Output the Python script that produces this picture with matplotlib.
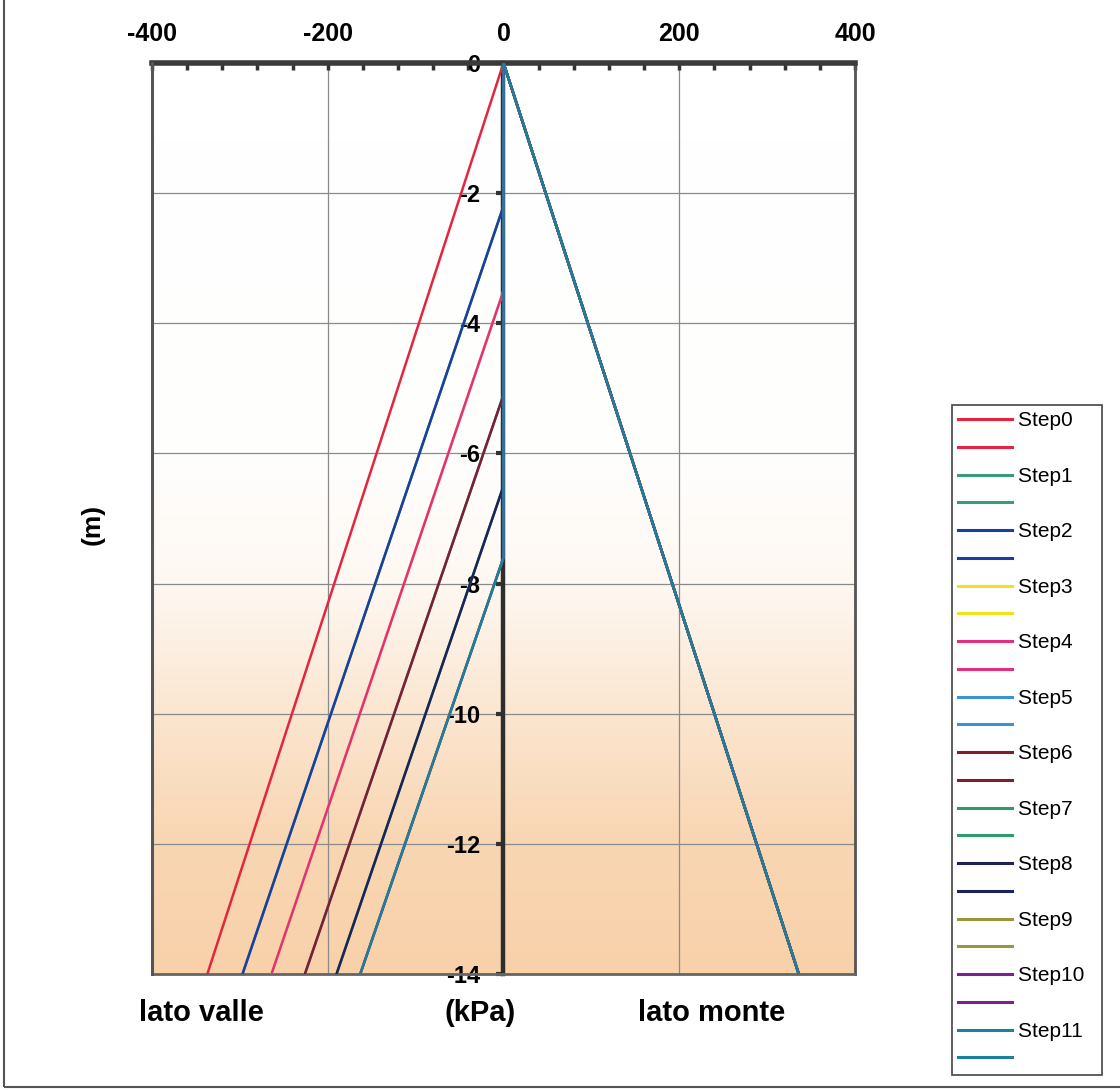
import matplotlib
matplotlib.use("Agg")
import matplotlib.pyplot as plt
import matplotlib.patches as mpatches
from matplotlib.lines import Line2D
from matplotlib.ticker import MultipleLocator
import numpy as np

plt.rcParams["font.family"] = ["Liberation Sans", "DejaVu Sans"]

# Data
STEPS = [f"Step{i}" for i in range(12)]
# depth (m) where the valley-side diagram leaves the wall
VALLE_START = [0.0, 2.2, 2.2, 3.5, 3.5, 5.1, 5.1, 6.5, 6.5, 7.6, 7.6, 7.6]
# pressure (kPa) on the valley side at the toe
VALLE_TOE = [-337, -297, -297, -264, -264, -226, -226, -190, -190, -163, -163, -163]
# pressure (kPa) on the uphill side at the toe
MONTE_TOE = [336] * 12
WALL_DEPTH = 14.0

COLORS = [
    "#e3263f", "#3a9a7e", "#1b3f9e", "#f2e21e", "#e2307e", "#3a92d2",
    "#7e1f2c", "#2f9a6a", "#1b2358", "#9a963a", "#7a2090", "#1e7f9a",
]

X_TICKS = [-400, -200, 0, 200, 400]
Y_TICKS = [0, -2, -4, -6, -8, -10, -12, -14]

fig = plt.figure(figsize=(11.2, 10.9), dpi=100)
ax = fig.add_axes([0.1357, 0.1064, 0.6277, 0.8358])

ax.set_xlim(-400, 400)
ax.set_ylim(-WALL_DEPTH, 0)

# background shading (scanned print goes peach towards the bottom)
yy = np.linspace(0, -WALL_DEPTH, 300)
alpha = np.interp(-yy, [0, 6.0, 8.0, 10.0, 12.0, 14.0], [0, 0.02, 0.15, 0.55, 0.9, 1.0])
bg = np.zeros((300, 2, 4))
bg[..., 0] = 0.975
bg[..., 1] = 0.82
bg[..., 2] = 0.665
bg[..., 3] = alpha[:, None]
ax.imshow(bg, extent=[-400, 400, -WALL_DEPTH, 0], aspect="auto", zorder=0,
          interpolation="bilinear")

# left spine becomes the wall at x = 0
ax.spines["left"].set_position(("data", 0))
ax.spines["left"].set_linewidth(3.2)
ax.spines["left"].set_color("#2e2e2e")
ax.spines["top"].set_linewidth(4)
ax.spines["top"].set_color("#3a3a3a")
ax.spines["bottom"].set_linewidth(2)
ax.spines["bottom"].set_color("#666666")
ax.spines["right"].set_linewidth(2)
ax.spines["right"].set_color("#555555")
ax.axvline(-400, color="#555555", linewidth=2.2, zorder=2.6, clip_on=False)

ax.set_yticks(Y_TICKS)
ax.set_xticks(X_TICKS)
ax.xaxis.set_minor_locator(MultipleLocator(40))
ax.set_yticklabels([str(v) for v in Y_TICKS], fontsize=17, fontweight="bold")
ax.set_xticklabels([str(v) for v in X_TICKS], fontsize=18, fontweight="bold")
ax.grid(True, which="major", color="#8a8a8a", linewidth=0.9, zorder=1)

ax.xaxis.tick_top()
ax.tick_params(axis="x", which="both", direction="in", length=5, width=2.5,
               color="#333333", pad=12)
ax.tick_params(axis="y", direction="out", length=5, width=3, color="#333333", pad=12)

handles = []
labels = []
for i, name in enumerate(STEPS):
    d = VALLE_START[i]
    ax.plot([0, 0, VALLE_TOE[i]], [0, -d, -WALL_DEPTH], color=COLORS[i],
            linewidth=1.8, zorder=3)
    ax.plot([0, MONTE_TOE[i]], [0, -WALL_DEPTH], color=COLORS[i],
            linewidth=1.8, zorder=3)
    handles.append(Line2D([], [], color=COLORS[i], linewidth=2.2))
    handles.append(Line2D([], [], color=COLORS[i], linewidth=2.2))
    labels.append(name + "  ")
    labels.append("")

leg = fig.legend(handles, labels, loc="upper left",
                 bbox_to_anchor=(0.85, 0.6284), fontsize=15,
                 handlelength=2.6, handletextpad=0.25, labelspacing=0.42,
                 borderpad=0.3, borderaxespad=0, fancybox=False, framealpha=1,
                 edgecolor="#444444")
leg.get_frame().set_linewidth(1.2)

fig.text(0.083, 0.519, "(m)", rotation=90, fontsize=19, fontweight="bold",
         ha="center", va="center")
fig.text(0.180, 0.0706, "lato valle", fontsize=21, fontweight="bold",
         ha="center", va="center")
fig.text(0.429, 0.0706, "(kPa)", fontsize=21, fontweight="bold",
         ha="center", va="center")
fig.text(0.635, 0.0706, "lato monte", fontsize=21, fontweight="bold",
         ha="center", va="center")

# outer frame of the printed page
fig.patches.append(mpatches.Rectangle((0.004, 0.003), 1.2, 1.2,
                                      transform=fig.transFigure, fill=False,
                                      edgecolor="#555555", linewidth=1.5))

fig.savefig("out.png", dpi=100)
